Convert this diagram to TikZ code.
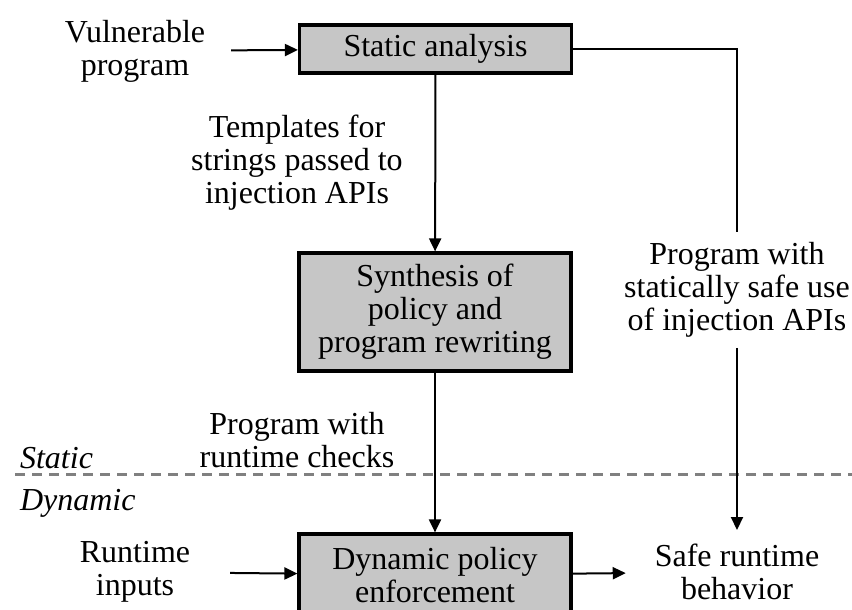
\documentclass[tikz,border=0pt]{standalone}
\usepackage{fontspec}
\setmainfont{Liberation Serif}
\usetikzlibrary{arrows.meta,positioning}

\tikzset{
  box/.style={draw, line width=1.6pt, fill=gray!45, minimum width=136pt, align=center, inner sep=0pt},
  lbl/.style={align=center},
  link/.style={line width=1pt},
  arr/.style={link, -{Triangle[length=6.5pt,width=6pt]}},
  split/.style={gray, line width=1.5pt, dash pattern=on 5pt off 3.5pt}
}

\begin{document}
\begin{tikzpicture}[x=0.5pt, y=-0.5pt, font=\fontsize{16}{16.5}\selectfont]
  \clip (0,0) rectangle (852,610);
  % boxes
  \node[box, minimum height=24pt] (sa)  at (435.5,49)  {Static analysis};
  \node[box, minimum height=59pt] (syn) at (435,312)   {Synthesis of\\policy and\\program rewriting};
  \node[box, minimum height=41pt] (dpe) at (435,575)   {Dynamic policy\\enforcement};
  % labels
  \node[lbl] (vp)   at (135,51)  {Vulnerable\\program};
  \node[lbl] (tpl)  at (297,163) {Templates for\\strings passed to\\injection APIs};
  \node[lbl, fill=white, inner sep=5pt] (psafe) at (737,290) {Program with\\statically safe use\\of injection APIs};
  \node[lbl] (rc)   at (297,440) {Program with\\runtime checks};
  \node[lbl] (ri)   at (135,572) {Runtime\\inputs};
  \node[lbl] (safe) at (737,572) {Safe runtime\\behavior};
  \node[anchor=base west] (st) at (13,468) {\itshape Static};
  \node[anchor=base west] (dy) at (13,510) {\itshape Dynamic};
  % static / dynamic border
  \draw[split] (15,474) -- (852,474);
  % connectors
  \draw[arr]
  (vp) edge[shorten <=9.5pt] (sa)
  (sa) edge (syn)
  (syn) edge (dpe)
  (ri) edge[shorten <=16.5pt] (dpe)
  (dpe) edge[shorten >=11pt] (safe)
  (psafe) edge[shorten >=3.5pt] (safe);
  \draw[link] (sa) -| (psafe);
\end{tikzpicture}
\end{document}
